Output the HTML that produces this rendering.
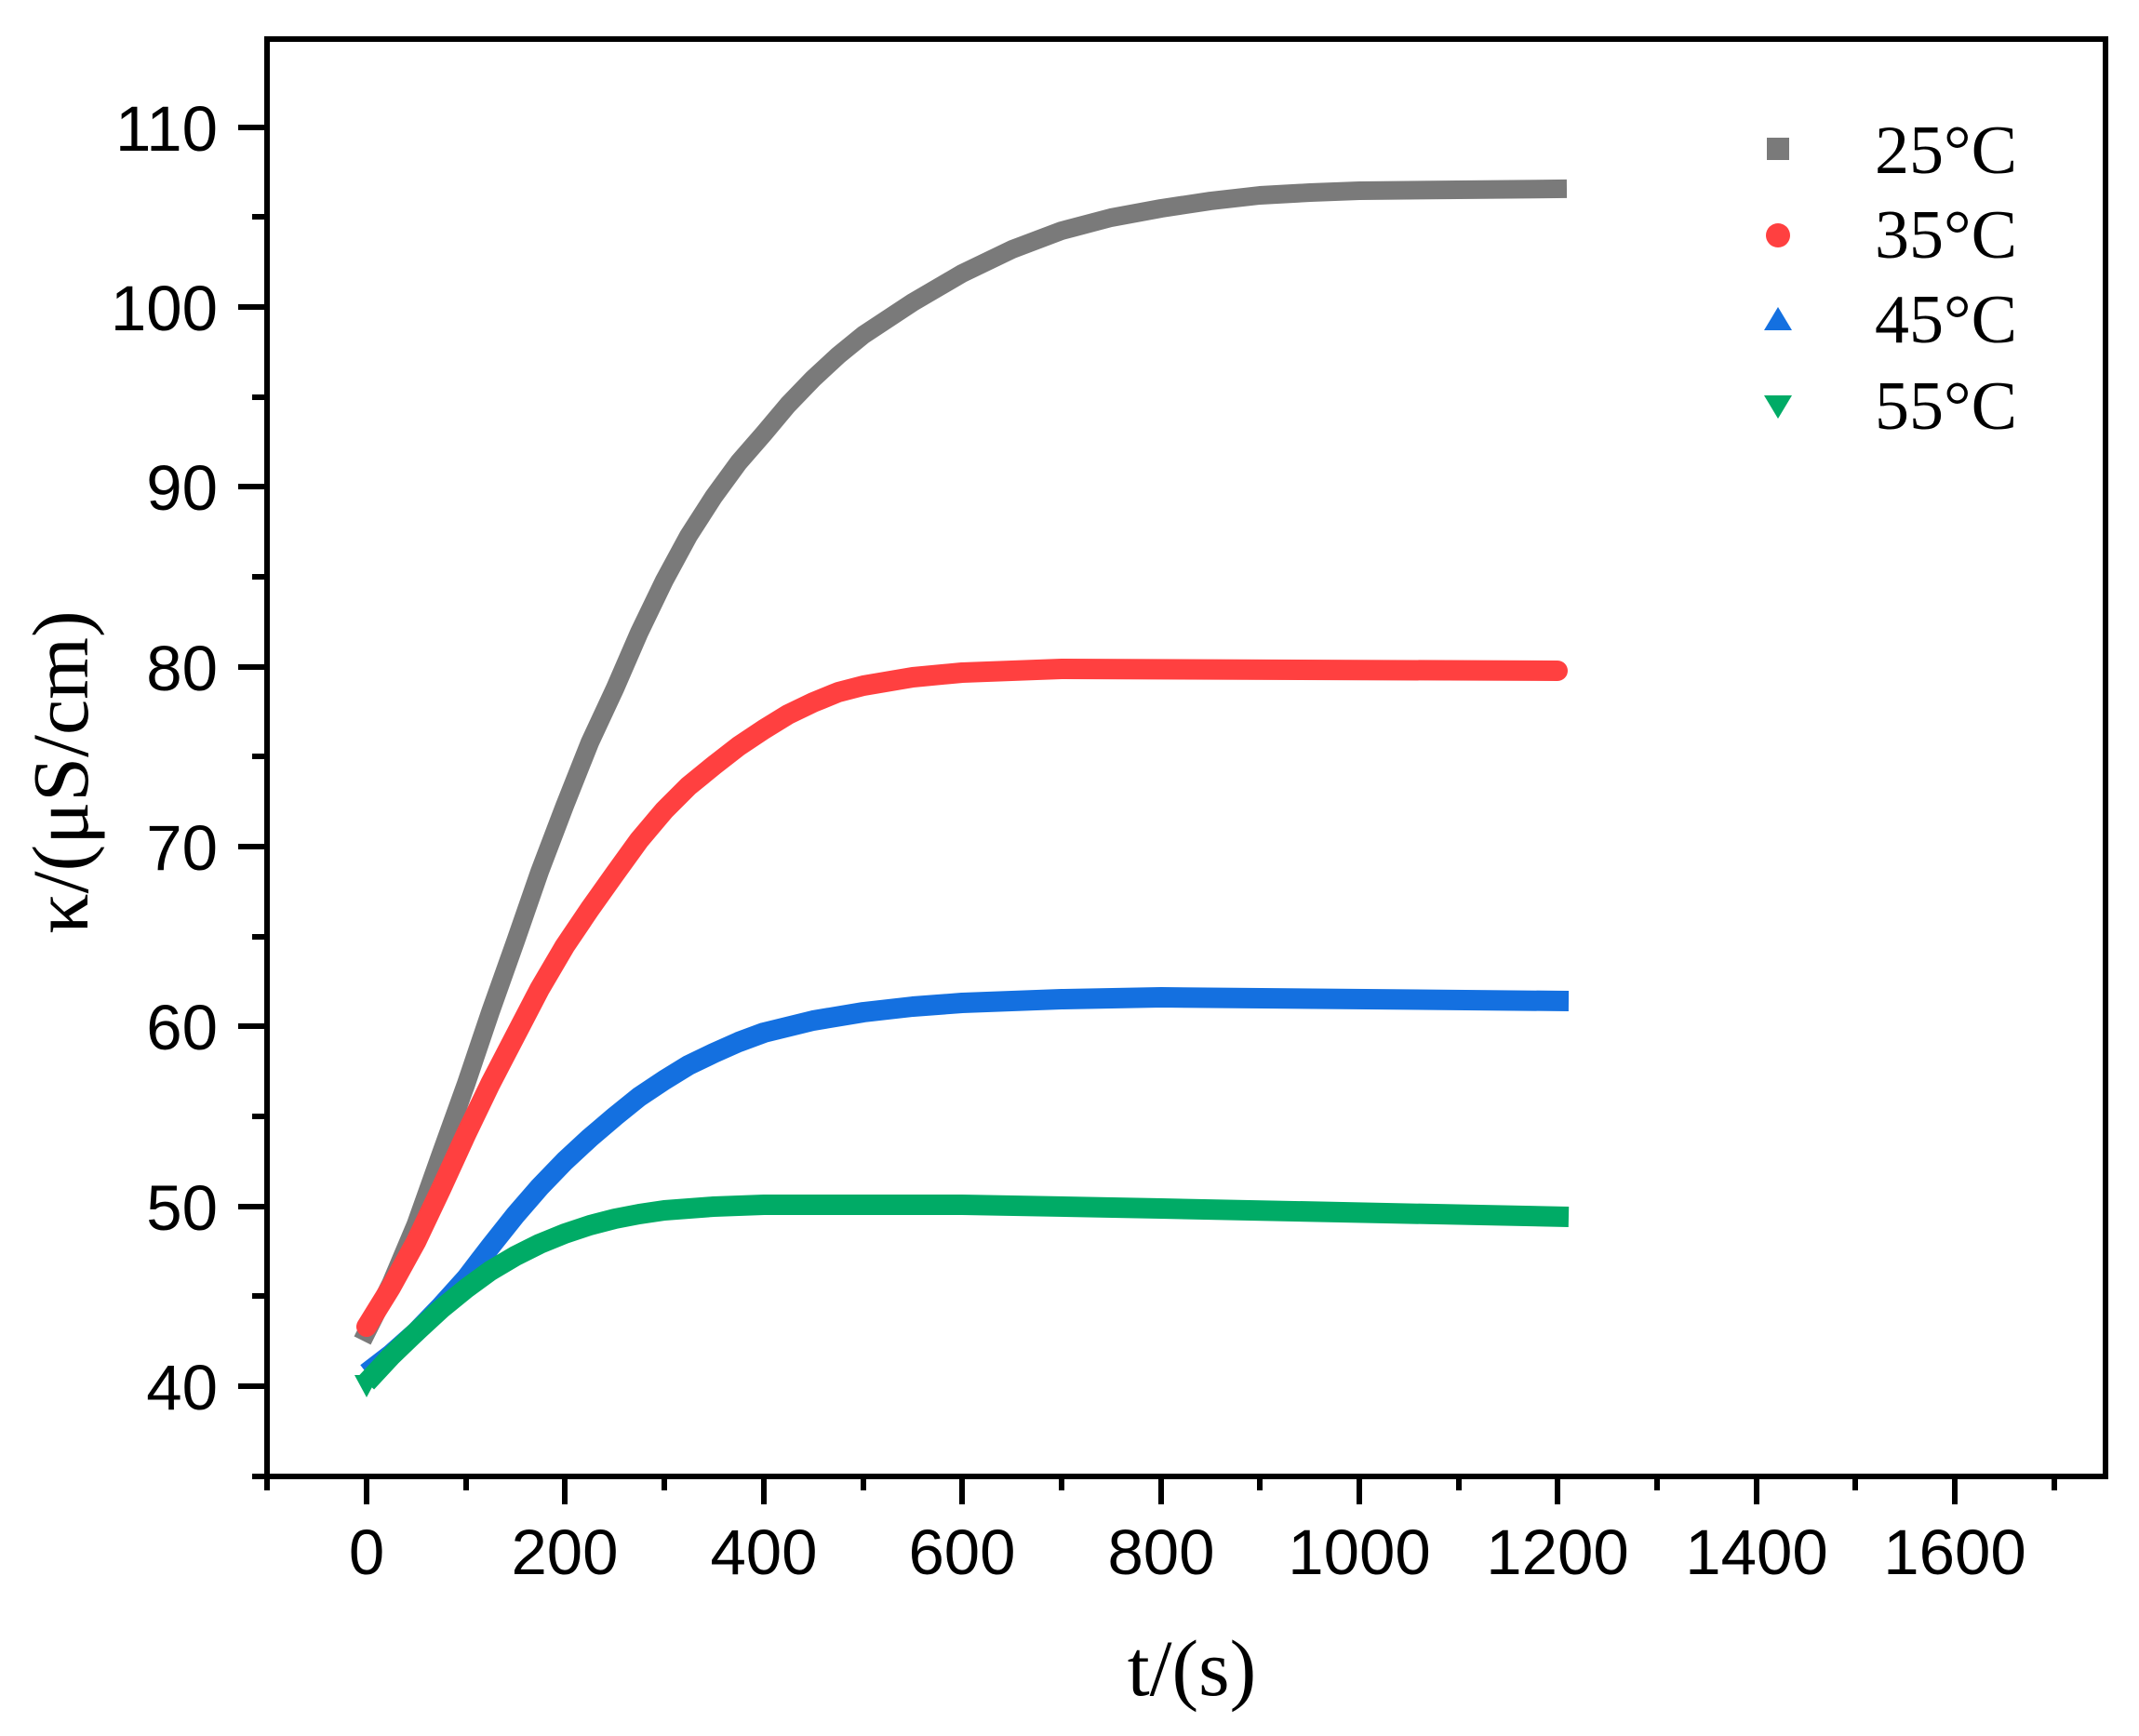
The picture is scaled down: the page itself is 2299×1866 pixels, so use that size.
<!DOCTYPE html>
<html><head><meta charset="utf-8"><style>body{margin:0;background:#fff}svg{display:block}</style></head>
<body>
<svg width="2299" height="1866" xmlns="http://www.w3.org/2000/svg">
<g fill="none" stroke-linejoin="round">
<polyline stroke="#7a7a7a" stroke-width="20" stroke-linecap="square" points="394,1432 420,1380 447,1316 474,1240 501,1165 527,1088 554,1012 580,937 607,866 634,798 661,740 687,680 714,624 740,576 767,534 794,497 821,466 847,435 874,407 901,382 928,360 981,325 1034,294 1088,268 1141,248 1194,234 1248,224 1301,216 1354,210 1408,207 1461,205 1674,203"/>
<polyline stroke="#ff4040" stroke-width="22" stroke-linecap="round" points="394,1426 420,1384 447,1335 474,1278 501,1219 527,1165 554,1113 580,1063 607,1017 634,977 661,939 687,903 714,871 740,845 767,823 794,802 821,784 847,768 874,755 901,744 928,737 981,728 1034,723 1141,719 1674,721"/>
<polyline stroke="#1470e0" stroke-width="22" stroke-linecap="butt" points="394,1476 420,1456 447,1432 474,1404 501,1374 527,1340 554,1306 580,1276 607,1248 634,1223 661,1200 687,1179 714,1161 740,1145 767,1132 794,1120 821,1110 874,1097 928,1088 981,1082 1034,1078 1141,1074 1248,1072 1686,1076"/>
<polyline stroke="#00ab66" stroke-width="22" stroke-linecap="butt" points="394,1486 420,1458 447,1432 474,1407 501,1385 527,1366 554,1350 580,1337 607,1326 634,1317 661,1310 687,1305 714,1301 767,1297 821,1295 1034,1295 1248,1299 1686,1308"/>
</g>
<polygon points="381,1478 407,1478 394,1502" fill="#00ab66"/>
<rect x="287" y="42" width="1976" height="1545" fill="none" stroke="#000" stroke-width="6"/>
<g stroke="#000" stroke-width="6">
<line x1="287" x2="287" y1="1587" y2="1602"/><line x1="394" x2="394" y1="1587" y2="1617"/>
<line x1="501" x2="501" y1="1587" y2="1602"/><line x1="607" x2="607" y1="1587" y2="1617"/>
<line x1="714" x2="714" y1="1587" y2="1602"/><line x1="821" x2="821" y1="1587" y2="1617"/>
<line x1="928" x2="928" y1="1587" y2="1602"/><line x1="1034" x2="1034" y1="1587" y2="1617"/>
<line x1="1141" x2="1141" y1="1587" y2="1602"/><line x1="1248" x2="1248" y1="1587" y2="1617"/>
<line x1="1354" x2="1354" y1="1587" y2="1602"/><line x1="1461" x2="1461" y1="1587" y2="1617"/>
<line x1="1568" x2="1568" y1="1587" y2="1602"/><line x1="1674" x2="1674" y1="1587" y2="1617"/>
<line x1="1781" x2="1781" y1="1587" y2="1602"/><line x1="1888" x2="1888" y1="1587" y2="1617"/>
<line x1="1994" x2="1994" y1="1587" y2="1602"/><line x1="2101" x2="2101" y1="1587" y2="1617"/>
<line x1="2208" x2="2208" y1="1587" y2="1602"/>
<line x1="287" x2="271" y1="1587" y2="1587"/><line x1="287" x2="256" y1="1490" y2="1490"/>
<line x1="287" x2="271" y1="1393" y2="1393"/><line x1="287" x2="256" y1="1297" y2="1297"/>
<line x1="287" x2="271" y1="1200" y2="1200"/><line x1="287" x2="256" y1="1103" y2="1103"/>
<line x1="287" x2="271" y1="1007" y2="1007"/><line x1="287" x2="256" y1="910" y2="910"/>
<line x1="287" x2="271" y1="813" y2="813"/><line x1="287" x2="256" y1="717" y2="717"/>
<line x1="287" x2="271" y1="620" y2="620"/><line x1="287" x2="256" y1="523" y2="523"/>
<line x1="287" x2="271" y1="427" y2="427"/><line x1="287" x2="256" y1="330" y2="330"/>
<line x1="287" x2="271" y1="233" y2="233"/><line x1="287" x2="256" y1="137" y2="137"/>
</g>
<g font-family="Liberation Sans, Arial, sans-serif" font-size="69" fill="#000" text-anchor="middle">
<text x="394" y="1692">0</text><text x="607" y="1692">200</text><text x="821" y="1692">400</text>
<text x="1034" y="1692">600</text><text x="1248" y="1692">800</text><text x="1461" y="1692">1000</text>
<text x="1674" y="1692">1200</text><text x="1888" y="1692">1400</text><text x="2101" y="1692">1600</text>
</g>
<g font-family="Liberation Sans, Arial, sans-serif" font-size="69" fill="#000" text-anchor="end">
<text x="234" y="1515">40</text><text x="234" y="1322">50</text><text x="234" y="1128">60</text>
<text x="234" y="935">70</text><text x="234" y="742">80</text><text x="234" y="548">90</text>
<text x="234" y="355">100</text><text x="234" y="162">110</text>
</g>
<text x="1281" y="1822" font-family="Liberation Serif, serif" font-size="86" text-anchor="middle">t/(s)</text>
<text transform="translate(94,830) rotate(-90)" font-family="Liberation Serif, serif" font-size="86" text-anchor="middle">κ/(μS/cm)</text>
<g font-family="Liberation Serif, serif" font-size="74" fill="#000">
<rect x="1899" y="148" width="24" height="24" fill="#7a7a7a"/><text x="2015" y="186">25°C</text>
<circle cx="1911" cy="253" r="13" fill="#ff4040"/><text x="2015" y="277">35°C</text>
<polygon points="1911,330 1926,355 1896,355" fill="#1470e0"/><text x="2015" y="368">45°C</text>
<polygon points="1896,425 1926,425 1911,450" fill="#00ab66"/><text x="2015" y="461">55°C</text>
</g>
</svg>
</body></html>
